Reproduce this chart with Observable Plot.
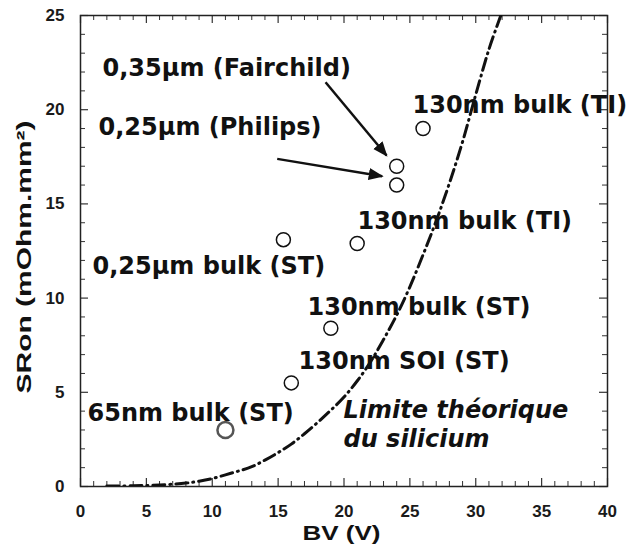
<!DOCTYPE html>
<html>
<head>
<meta charset="utf-8">
<script src="https://cdn.jsdelivr.net/npm/d3@7"></script>
<script src="https://cdn.jsdelivr.net/npm/@observablehq/plot@0.6"></script>
<style>
  html, body { margin: 0; padding: 0; background: white; }
</style>
</head>
<body>
<div id="chart"></div>
<script>
// Device data points (BV in V, SRon in mOhm.mm²)
const pointBV   = [11, 16, 19, 15.4, 21, 24, 24, 26];
const pointSRon = [3, 5.5, 8.4, 13.1, 12.9, 16, 17, 19];
const pointHighlight = [true, false, false, false, false, false, false, false];

// Theoretical silicon limit curve
const limitBV   = [2, 4, 6, 8, 9, 10, 11, 12, 13, 14, 15, 16, 17, 18, 19, 20, 21, 22, 23, 24, 25, 26, 27, 28, 29, 30, 31, 31.9];
const limitSRon = [0.02, 0.04, 0.08, 0.18, 0.28, 0.42, 0.62, 0.82, 1.05, 1.4, 1.8, 2.25, 2.8, 3.4, 4.05, 4.75, 5.6, 6.6, 7.8, 9.1, 10.6, 12.3, 14.1, 16.1, 18.3, 20.8, 23.2, 25];

// Labels
const labelText = ["0,35µm (Fairchild)", "0,25µm (Philips)", "130nm bulk (TI)", "130nm bulk (TI)", "0,25µm bulk (ST)", "130nm bulk (ST)", "130nm SOI (ST)", "65nm bulk (ST)"];
const labelX = [1.67, 1.37, 25.2, 21.02, 0.91, 17.23, 16.55, 0.53];
const labelY = [22.22, 19.09, 20.21, 14.10, 11.71, 9.49, 6.67, 3.91];

const noteText = ["Limite théorique", "du silicium"];
const noteX = [19.96, 19.96];
const noteY = [4.02, 2.48];

// Arrows (data coordinates)
const arrowX1 = [18.60, 14.93];
const arrowY1 = [21.46, 17.39];
const arrowX2 = [23.23, 22.90];
const arrowY2 = [17.57, 16.47];

// Ticks
const xMajor = [0, 5, 10, 15, 20, 25, 30, 35, 40];
const xMinor = [1,2,3,4,6,7,8,9,11,12,13,14,16,17,18,19,21,22,23,24,26,27,28,29,31,32,33,34,36,37,38,39];
const yMajor = [0, 5, 10, 15, 20, 25];
const yMinor = [1,2,3,4,6,7,8,9,11,12,13,14,16,17,18,19,21,22,23,24];

const xTitle = "BV (V)";
const yTitle = "SRon (mOhm.mm²)";

const points = pointBV.map((x, i) => ({x, y: pointSRon[i], h: pointHighlight[i]}));
const limit = limitBV.map((x, i) => ({x, y: limitSRon[i]}));
const labels = labelText.map((t, i) => ({t, x: labelX[i], y: labelY[i]}));
const notes = noteText.map((t, i) => ({t, x: noteX[i], y: noteY[i]}));
const arrows = arrowX1.map((x1, i) => ({x1, y1: arrowY1[i], x2: arrowX2[i], y2: arrowY2[i]}));

const W = 634, H = 554, mL = 80, mR = 27, mT = 15, mB = 68;
const fw = W - mL - mR, fh = H - mT - mB;
const majorLen = 8, minorLen = 5;
const tickColor = "#333";
const annFont = "DejaVu Sans, Verdana, sans-serif";
const axFont = "Liberation Sans, Arial, sans-serif";

// filled triangular arrow head
function filledHead(color, context) {
  const doc = (context && context.document) || document;
  const ns = "http://www.w3.org/2000/svg";
  const m = doc.createElementNS(ns, "marker");
  m.setAttribute("viewBox", "0 -5 10 10");
  m.setAttribute("refX", "9");
  m.setAttribute("refY", "0");
  m.setAttribute("markerWidth", "6");
  m.setAttribute("markerHeight", "6");
  m.setAttribute("orient", "auto");
  const p = doc.createElementNS(ns, "path");
  p.setAttribute("d", "M0,-4L10,0L0,4Z");
  p.setAttribute("fill", color);
  p.setAttribute("stroke", "none");
  m.appendChild(p);
  return m;
}

let arrowMark;
try {
  arrowMark = Plot.link(arrows, {x1: "x1", y1: "y1", x2: "x2", y2: "y2", stroke: "#111", strokeWidth: 2.5, markerEnd: filledHead});
} catch (e) {
  arrowMark = Plot.arrow(arrows, {x1: "x1", y1: "y1", x2: "x2", y2: "y2", stroke: "#111", strokeWidth: 2.5, headLength: 14, headAngle: 50});
}

const chart = Plot.plot({
  width: W, height: H,
  marginLeft: mL, marginRight: mR, marginTop: mT, marginBottom: mB,
  x: {domain: [0, 40]},
  y: {domain: [0, 25]},
  style: {background: "white", fontFamily: axFont, color: "#111"},
  marks: [
    // ticks pointing inward on all four sides
    Plot.tickX(xMajor, {x: d => d, insetTop: fh - majorLen, stroke: tickColor, strokeWidth: 1.2}),
    Plot.tickX(xMinor, {x: d => d, insetTop: fh - minorLen, stroke: tickColor, strokeWidth: 1}),
    Plot.tickX(xMajor, {x: d => d, insetBottom: fh - majorLen, stroke: tickColor, strokeWidth: 1.2}),
    Plot.tickX(xMinor, {x: d => d, insetBottom: fh - minorLen, stroke: tickColor, strokeWidth: 1}),
    Plot.tickY(yMajor, {y: d => d, insetRight: fw - majorLen, stroke: tickColor, strokeWidth: 1.2}),
    Plot.tickY(yMinor, {y: d => d, insetRight: fw - minorLen, stroke: tickColor, strokeWidth: 1}),
    Plot.tickY(yMajor, {y: d => d, insetLeft: fw - majorLen, stroke: tickColor, strokeWidth: 1.2}),
    Plot.tickY(yMinor, {y: d => d, insetLeft: fw - minorLen, stroke: tickColor, strokeWidth: 1}),
    Plot.frame({stroke: "#222", strokeWidth: 1.5}),
    Plot.axisX(xMajor, {tickSize: 0, tickPadding: 18, fontSize: 17, fontWeight: "bold", fontFamily: axFont, fill: "#1a1a1a", label: null}),
    Plot.axisY(yMajor, {tickSize: 0, tickPadding: 16, fontSize: 17, fontWeight: "bold", fontFamily: axFont, fill: "#1a1a1a", label: null}),
    Plot.text([xTitle], {frameAnchor: "bottom", textAnchor: "start", dx: -41.5, dy: 53, text: d => d, fontSize: 20, fontWeight: "bold", fontFamily: axFont, fill: "#111"}),
    Plot.text([yTitle], {frameAnchor: "left", textAnchor: "start", dx: -56, dy: 142.5, rotate: -90, text: d => d, fontSize: 21, fontWeight: "bold", fontFamily: axFont, fill: "#111"}),
    // annotations
    Plot.text(labels, {x: "x", y: "y", text: "t", textAnchor: "start", fontSize: 24, fontWeight: "bold", fontFamily: annFont, fill: "#111"}),
    Plot.text(notes, {x: "x", y: "y", text: "t", textAnchor: "start", fontSize: 24, fontWeight: "bold", fontStyle: "italic", fontFamily: annFont, fill: "#111"}),
    // arrows
    arrowMark,
    // points
    Plot.dot(points.filter(d => !d.h), {x: "x", y: "y", r: 7, stroke: "#111", strokeWidth: 1.5, fill: "white"}),
    Plot.dot(points.filter(d => d.h), {x: "x", y: "y", r: 8, stroke: "#555", strokeWidth: 2.5, fill: "white"}),
    // silicon limit curve
    Plot.line(limit, {x: "x", y: "y", curve: "catmull-rom", stroke: "#111", strokeWidth: 3, strokeDasharray: "12,5,1,5", clip: true})
  ]
});

// stretch axis titles to match the original's wide lettering
d3.select(chart).selectAll("text").each(function() {
  const t = this.textContent;
  if (t === yTitle) d3.select(this).attr("textLength", 273).attr("lengthAdjust", "spacingAndGlyphs");
  if (t === xTitle) d3.select(this).attr("textLength", 78).attr("lengthAdjust", "spacingAndGlyphs");
});

document.getElementById("chart").appendChild(chart);
</script>
</body>
</html>
